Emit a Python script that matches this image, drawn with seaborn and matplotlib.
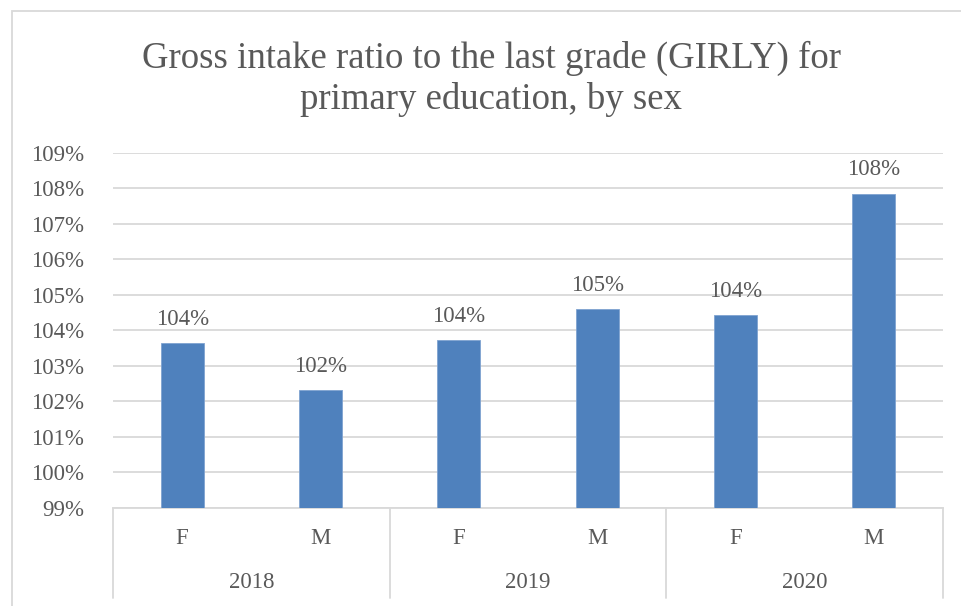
import matplotlib
matplotlib.use("Agg")
import matplotlib.pyplot as plt
import seaborn as sns
import pandas as pd
from matplotlib.patches import Rectangle
from matplotlib.lines import Line2D

# data
years = ["2018", "2018", "2019", "2019", "2020", "2020"]
sexes = ["F", "M", "F", "M", "F", "M"]
girly = [103.63, 102.31, 103.72, 104.59, 104.42, 107.85]
year_labels = ["2018", "2019", "2020"]

df = pd.DataFrame({"pos": range(len(girly)), "sex": sexes, "year": years, "value": girly})

sns.set_theme(style="white")
plt.rcParams["font.family"] = ["Liberation Serif", "DejaVu Serif"]

text_col = "#595959"
grid_col = "#D9D9D9"
bar_col = "#4F81BD"
fs = 16.5

fig = plt.figure(figsize=(9.61, 6.06), dpi=100)
ax = fig.add_axes([113 / 961, 1 - 507.5 / 606, 830 / 961, 354.8 / 606])

sns.barplot(data=df, x="pos", y="value", color=bar_col, width=0.31,
            saturation=1, edgecolor="#7FA3D1", linewidth=0.6, ax=ax, zorder=3)

ax.set_ylim(99, 109)
ax.set_xlim(-0.5, len(girly) - 0.5)
ticks = list(range(99, 110))
ax.set_yticks(ticks)
ax.set_yticklabels([f"{t}%" for t in ticks], fontsize=fs, color=text_col)
ax.tick_params(axis="y", length=0, pad=21)
ax.yaxis.grid(True, color=grid_col, linewidth=1.3, zorder=0)
ax.set_axisbelow(True)
for s in ["top", "right", "left"]:
    ax.spines[s].set_visible(False)
ax.spines["bottom"].set_color(grid_col)
ax.spines["bottom"].set_linewidth(1.3)

ax.set_xticks(df["pos"])
ax.set_xticklabels([])
ax.tick_params(axis="x", length=0)
ax.set_xlabel("")
ax.set_ylabel("")

# data labels
for p, v in zip(df["pos"], girly):
    ax.text(p, v + 0.38, f"{v:.0f}%", ha="center", va="bottom",
            fontsize=fs, color=text_col)

# multi-level category axis
h_px = 354.8
for p, s in zip(df["pos"], sexes):
    ax.text(p, -30.5 / h_px, s, transform=ax.get_xaxis_transform(),
            ha="center", va="center", fontsize=fs, color=text_col)
for i, y in enumerate(year_labels):
    ax.text(2 * i + 0.5, -75.5 / h_px, y, transform=ax.get_xaxis_transform(),
            ha="center", va="center", fontsize=fs, color=text_col)
for xb in [-0.5, 1.5, 3.5, 5.5]:
    ax.add_line(Line2D([xb, xb], [0, -90.5 / h_px], transform=ax.get_xaxis_transform(),
                       color=grid_col, linewidth=1.3, clip_on=False))

fig.text(0.511, 1 - 79 / 606,
         "Gross intake ratio to the last grade (GIRLY) for\nprimary education, by sex",
         ha="center", va="center", fontsize=26.5, color=text_col, linespacing=1.22)

# chart frame
fig.add_artist(Rectangle((12 / 961, -0.1), 1.2, 1.1 - 11 / 606, transform=fig.transFigure,
                         fill=False, edgecolor=grid_col, linewidth=1.3))

fig.savefig("out.png", dpi=100)
